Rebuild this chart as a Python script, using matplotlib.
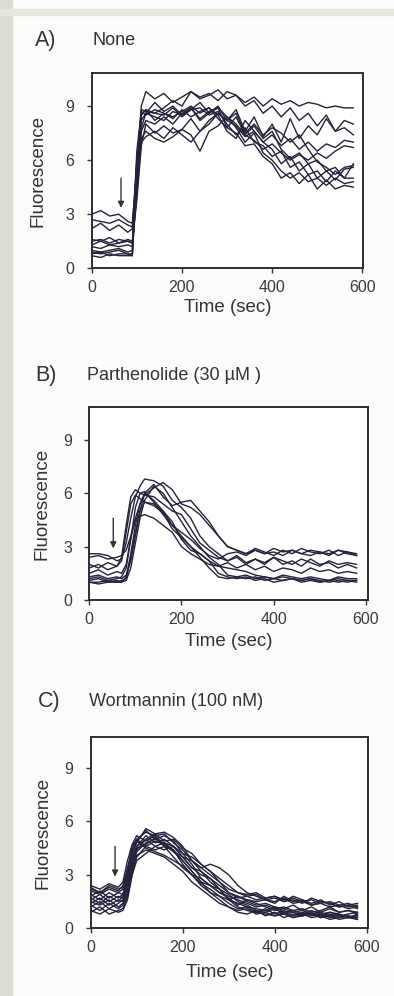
import matplotlib
matplotlib.use("Agg")
import matplotlib.pyplot as plt
from matplotlib.patches import Rectangle

plt.rcParams['font.family'] = ['Liberation Sans', 'DejaVu Sans']

# ---- panel A: None ----
time_a = [0, 20, 40, 60, 80, 90, 100, 110, 120] + list(range(140, 581, 20))
traces_a = [
    [3.0, 3.2, 2.9, 3.0, 2.6, 2.5, 5.5, 9.0, 9.8, 9.4, 9.7, 9.2, 9.5, 9.8, 9.5, 9.7, 9.3, 9.8, 9.6, 9.2, 9.5, 9.0, 9.4, 9.1, 9.3, 9.0, 9.2, 9.1, 8.9, 9.0, 8.9, 8.9],
    [2.7, 2.6, 2.5, 2.7, 2.4, 2.3, 6.0, 8.5, 8.8, 8.6, 8.9, 9.3, 9.0, 9.8, 9.4, 9.6, 9.9, 9.4, 9.6, 9.0, 9.3, 8.6, 9.0, 8.4, 8.9, 8.2, 8.6, 7.9, 8.5, 7.6, 8.2, 8.0],
    [2.2, 2.5, 2.1, 2.4, 2.0, 2.2, 5.0, 7.8, 8.6, 9.2, 8.7, 9.0, 8.5, 8.8, 9.2, 8.6, 9.0, 8.2, 8.8, 7.6, 8.4, 7.3, 8.0, 7.0, 8.3, 7.2, 7.9, 7.4, 8.3, 7.6, 7.8, 7.4],
    [1.6, 1.5, 1.7, 1.4, 1.6, 1.5, 4.5, 7.0, 7.3, 7.6, 7.2, 7.8, 7.4, 7.0, 7.6, 8.0, 8.6, 8.2, 7.9, 7.3, 7.6, 7.0, 7.4, 6.8, 7.2, 6.6, 7.0, 6.5, 6.9, 6.7, 7.1, 7.0],
    [1.3, 1.5, 1.3, 1.4, 1.5, 1.4, 4.0, 7.2, 7.6, 7.2, 7.0, 7.3, 7.7, 7.4, 6.5, 7.6, 7.9, 8.4, 8.0, 7.4, 7.1, 6.6, 6.9, 6.4, 6.0, 6.3, 6.0, 6.4, 6.1, 6.5, 6.8, 6.7],
    [1.2, 1.1, 1.3, 1.2, 1.3, 1.2, 5.8, 8.8, 8.7, 8.6, 8.5, 8.9, 8.4, 8.8, 8.9, 8.5, 8.7, 8.0, 7.4, 7.8, 7.0, 6.8, 6.2, 6.5, 5.6, 5.9, 5.2, 5.4, 4.8, 5.4, 5.0, 5.8],
    [1.0, 0.9, 1.0, 1.1, 0.9, 1.0, 6.5, 8.7, 8.5, 8.8, 8.6, 8.4, 8.7, 9.0, 8.6, 8.9, 8.5, 7.6, 7.2, 8.2, 7.6, 7.0, 6.6, 5.8, 6.2, 5.4, 5.8, 5.0, 5.4, 4.9, 5.5, 5.6],
    [0.8, 0.9, 0.7, 0.8, 0.8, 0.7, 5.2, 8.2, 8.6, 8.4, 8.2, 8.7, 8.5, 8.9, 8.2, 8.6, 8.9, 8.4, 7.8, 7.0, 7.5, 6.4, 6.0, 5.4, 5.0, 5.3, 4.8, 5.0, 4.6, 5.0, 4.7, 4.8],
    [0.7, 0.6, 0.8, 0.7, 0.7, 0.7, 4.8, 7.6, 8.2, 8.0, 8.4, 8.0, 8.6, 8.9, 8.3, 8.7, 8.9, 7.8, 7.5, 6.8, 6.9, 6.2, 5.8, 5.0, 5.3, 4.7, 5.2, 4.4, 4.9, 4.4, 4.6, 4.5],
    [0.9, 0.8, 0.9, 1.0, 0.8, 0.8, 6.0, 8.5, 8.8, 8.2, 8.6, 8.3, 8.8, 8.4, 8.7, 8.9, 8.3, 7.8, 8.4, 7.4, 7.9, 7.2, 7.6, 6.6, 6.1, 6.4, 5.8, 6.0, 5.4, 5.6, 5.0, 5.0],
    [1.5, 1.6, 1.4, 1.6, 1.5, 1.4, 3.8, 6.8, 8.0, 7.5, 7.9, 7.5, 7.7, 8.3, 7.6, 8.2, 8.6, 8.2, 8.6, 7.5, 8.0, 7.4, 7.8, 7.5, 7.0, 7.4, 6.6, 5.9, 5.6, 5.2, 5.6, 5.7],
]

# ---- panel B: Parthenolide ----
time_b = [0, 20, 40, 60, 70, 80, 90, 100, 110, 120] + list(range(140, 581, 20))
traces_b = [
    [2.4, 2.5, 2.3, 2.4, 2.5, 2.8, 3.6, 4.6, 5.4, 5.9, 6.3, 6.6, 6.2, 5.4, 5.2, 4.8, 4.2, 3.6, 3.0, 2.8, 2.6, 2.8, 2.6, 2.9, 2.7, 2.8, 2.6, 2.8, 2.7, 2.5, 2.8, 2.6, 2.5],
    [2.6, 2.6, 2.5, 2.2, 2.3, 3.2, 4.6, 5.8, 6.4, 6.8, 6.7, 6.4, 5.6, 5.2, 4.6, 3.6, 3.0, 2.6, 2.2, 2.4, 2.0, 2.3, 2.1, 2.4, 2.0, 2.2, 1.9, 2.3, 2.0, 2.1, 1.8, 2.0, 1.8],
    [2.0, 1.8, 2.1, 1.9, 2.4, 4.2, 5.8, 6.2, 6.0, 6.1, 5.5, 4.8, 4.2, 3.8, 3.4, 2.9, 2.5, 2.3, 2.6, 2.7, 2.5, 2.8, 2.6, 2.7, 2.5, 2.8, 2.6, 2.5, 2.7, 2.6, 2.8, 2.7, 2.5],
    [1.5, 1.7, 1.4, 1.6, 1.5, 2.0, 3.5, 4.5, 4.7, 4.8, 4.6, 4.2, 3.8, 3.0, 2.6, 2.3, 2.0, 1.9, 2.1, 1.8, 2.0, 1.7, 1.9, 1.6, 1.8, 1.7, 1.5, 1.8, 1.6, 1.7, 1.5, 1.6, 1.5],
    [1.3, 1.4, 1.2, 1.3, 1.2, 1.4, 2.2, 3.6, 5.0, 6.0, 6.5, 5.8, 5.3, 5.5, 5.6, 5.0, 4.4, 3.6, 3.0, 2.8, 2.6, 2.9, 2.7, 2.5, 2.8, 2.6, 2.9, 2.7, 2.6, 2.8, 2.5, 2.7, 2.6],
    [1.1, 1.2, 1.0, 1.1, 1.0, 1.3, 2.6, 4.2, 5.4, 6.0, 5.6, 5.0, 4.2, 3.6, 3.0, 2.4, 1.8, 1.3, 1.2, 1.3, 1.2, 1.3, 1.1, 1.2, 1.1, 1.2, 1.1, 1.2, 1.0, 1.1, 1.2, 1.1, 1.1],
    [1.0, 1.0, 1.1, 1.0, 1.0, 1.1, 1.8, 3.2, 4.6, 5.6, 6.4, 6.0, 5.2, 4.4, 3.6, 3.0, 2.4, 2.0, 1.4, 1.3, 1.4, 1.2, 1.3, 1.2, 1.4, 1.3, 1.2, 1.3, 1.2, 1.1, 1.3, 1.2, 1.2],
    [1.0, 0.9, 1.0, 1.0, 1.1, 1.2, 2.4, 3.8, 5.0, 5.5, 5.4, 5.0, 4.4, 3.4, 2.8, 2.6, 2.2, 1.9, 1.8, 1.7, 1.6, 1.4, 1.3, 1.2, 1.3, 1.2, 1.1, 1.2, 1.1, 1.0, 1.1, 1.0, 1.1],
    [1.2, 1.3, 1.1, 1.2, 1.3, 1.8, 3.4, 5.2, 6.0, 5.9, 5.8, 5.4, 5.0, 4.8, 4.0, 3.2, 2.8, 2.4, 2.2, 2.5, 2.1, 2.3, 2.0, 2.4, 2.2, 2.0, 2.3, 2.1, 1.9, 2.2, 2.0, 2.1, 2.0],
    [1.8, 2.0, 1.7, 1.9, 2.2, 3.8, 5.4, 5.9, 5.7, 5.5, 5.3, 4.9, 4.0, 3.5, 3.0, 2.6, 2.2, 1.5, 1.3, 1.2, 1.3, 1.1, 1.2, 1.0, 1.1, 1.2, 1.0, 1.1, 1.0, 1.1, 1.0, 1.1, 1.0],
]

# ---- panel C: Wortmannin ----
time_c = [0, 20, 40, 60, 70, 80, 90] + list(range(100, 581, 20))
traces_c = [
    [2.2, 2.0, 2.3, 2.1, 2.4, 3.4, 4.4, 5.0, 5.4, 5.2, 5.3, 4.8, 4.4, 3.8, 3.4, 3.0, 2.6, 2.2, 2.0, 1.9, 2.0, 1.7, 1.8, 1.6, 1.7, 1.5, 1.6, 1.4, 1.5, 1.3, 1.4, 1.2],
    [1.8, 2.1, 1.7, 2.0, 1.9, 3.0, 4.2, 4.8, 5.6, 5.3, 4.9, 5.0, 4.5, 4.2, 3.6, 3.2, 2.6, 2.0, 1.8, 1.5, 1.3, 1.4, 1.2, 1.1, 1.3, 1.0, 1.2, 0.9, 1.1, 0.9, 1.0, 0.8],
    [1.2, 1.5, 1.1, 1.4, 1.6, 2.4, 3.6, 4.4, 5.0, 5.3, 5.4, 5.1, 4.6, 3.8, 3.4, 3.6, 3.4, 3.0, 2.4, 2.0, 1.8, 1.6, 1.5, 1.7, 1.4, 1.5, 1.3, 1.4, 1.2, 1.3, 1.1, 1.2],
    [1.5, 1.3, 1.6, 1.2, 1.4, 1.9, 3.2, 4.1, 4.4, 4.2, 4.0, 3.6, 3.2, 2.6, 2.2, 1.8, 1.4, 1.2, 1.0, 1.1, 0.8, 0.9, 0.7, 0.8, 0.6, 0.8, 0.6, 0.7, 0.5, 0.6, 0.7, 0.6],
    [2.4, 2.2, 2.5, 2.3, 2.6, 3.8, 4.7, 5.2, 4.9, 5.2, 4.7, 4.3, 4.0, 3.4, 3.0, 2.8, 2.4, 2.0, 1.7, 1.8, 1.6, 1.7, 1.8, 1.5, 1.6, 1.4, 1.7, 1.5, 1.4, 1.2, 1.3, 1.1],
    [1.0, 0.8, 1.1, 0.9, 1.0, 1.6, 3.0, 4.0, 4.6, 4.9, 4.7, 4.3, 3.8, 3.2, 2.6, 2.0, 1.6, 1.2, 0.9, 0.8, 1.0, 0.7, 0.9, 0.6, 0.8, 0.7, 0.9, 0.6, 0.8, 0.6, 0.7, 0.5],
    [1.9, 1.6, 2.0, 1.7, 1.9, 2.8, 4.0, 4.6, 5.0, 4.6, 4.8, 4.4, 3.6, 3.0, 2.8, 2.4, 2.0, 1.8, 1.6, 1.4, 1.2, 1.3, 1.1, 1.2, 1.0, 1.1, 0.9, 1.0, 1.2, 0.9, 1.0, 0.9],
    [1.4, 1.7, 1.3, 1.6, 1.5, 2.2, 3.4, 4.3, 4.8, 5.0, 5.2, 4.9, 4.2, 3.6, 2.8, 2.4, 2.2, 1.9, 1.5, 1.3, 1.0, 0.9, 1.1, 0.8, 0.9, 0.7, 0.8, 0.9, 0.7, 0.8, 0.6, 0.7],
    [2.1, 1.9, 2.2, 2.0, 2.2, 3.2, 4.6, 5.0, 4.6, 4.4, 4.6, 4.0, 3.4, 3.0, 2.5, 2.2, 1.8, 1.6, 1.8, 1.6, 1.5, 1.6, 1.4, 1.8, 1.5, 1.6, 1.3, 1.5, 1.4, 1.2, 1.3, 1.4],
    [0.9, 1.2, 0.8, 1.0, 1.1, 1.8, 3.0, 3.8, 4.2, 4.6, 4.4, 4.6, 4.0, 3.4, 3.2, 2.6, 2.2, 1.6, 1.2, 1.0, 0.9, 0.8, 0.7, 0.9, 0.6, 0.7, 0.8, 0.6, 0.7, 0.5, 0.6, 0.7],
    [1.6, 1.9, 1.5, 1.8, 1.7, 2.6, 3.8, 4.6, 5.2, 4.8, 5.0, 4.6, 4.0, 3.8, 3.2, 2.8, 2.2, 1.6, 1.4, 1.2, 1.1, 1.0, 1.2, 0.9, 1.0, 0.8, 1.0, 0.8, 0.9, 0.7, 0.8, 0.9],
    [1.3, 1.0, 1.4, 1.1, 1.3, 2.0, 3.6, 4.5, 4.7, 5.1, 4.6, 4.4, 3.8, 3.2, 2.6, 2.4, 2.0, 1.7, 1.3, 1.6, 1.4, 1.2, 1.0, 1.1, 0.9, 1.0, 0.8, 0.7, 0.9, 0.8, 0.6, 0.8],
    [2.3, 2.0, 2.4, 2.2, 2.3, 3.2, 4.3, 4.9, 5.5, 5.0, 4.8, 4.6, 4.2, 4.0, 3.6, 3.2, 2.8, 2.4, 2.0, 1.8, 1.9, 1.6, 1.7, 1.5, 1.8, 1.6, 1.4, 1.6, 1.3, 1.5, 1.2, 1.3],
    [1.7, 1.4, 1.8, 1.5, 1.8, 2.8, 4.2, 4.9, 4.5, 4.3, 4.1, 3.8, 3.5, 3.0, 2.4, 2.0, 1.8, 1.4, 1.1, 1.2, 0.9, 1.1, 0.8, 1.0, 0.7, 0.9, 0.7, 0.8, 0.6, 0.7, 0.6, 0.5],
]

letters = ["A)", "B)", "C)"]
titles = ["None", "Parthenolide (30 \u00b5M )", "Wortmannin (100 nM)"]
arrow_x = [65, 52, 53]
arrow_top = [5.0, 4.6, 4.6]
arrow_tip = [3.35, 2.9, 2.9]
y_ticks = [0, 3, 6, 9]
x_ticks = [0, 200, 400, 600]

W, H = 394, 996
fig = plt.figure(figsize=(W / 100, H / 100), dpi=100)
fig.patch.set_facecolor('#fbfbf9')
# scanned page edges
fig.patches.append(Rectangle((0, 0), 12 / W, 1, transform=fig.transFigure,
                             color='#dcdcd3', zorder=0))
fig.patches.append(Rectangle((0, 1 - 15 / H), 1, 6 / H, transform=fig.transFigure,
                             color='#e6e6df', zorder=0))

# axes boxes in pixels: left, top, right, bottom
boxes = [(91.7, 72.7, 363.3, 268.3), (89.3, 407.3, 367.7, 600.0), (90.7, 736.7, 368.3, 928.3)]
xmax = [602, 604, 603.5]
ymax = [10.85, 10.83, 10.76]
ylab_x = [-0.197, -0.171, -0.171]
xlab_y = [-0.2, -0.215, -0.233]
title_y = [40, 375, 702]
title_x = [93, 87, 89]
letter_x = [35, 35, 38]

data = [(time_a, traces_a), (time_b, traces_b), (time_c, traces_c)]

for i, (t, traces) in enumerate(data):
    l, tp, r, b = boxes[i]
    ax = fig.add_axes([l / W, 1 - b / H, (r - l) / W, (b - tp) / H])
    ax.set_facecolor('white')
    for tr in traces:
        ax.plot(t, tr, color='#22223a', lw=1.0)
    ax.set_xlim(0, xmax[i])
    ax.set_ylim(0, ymax[i])
    ax.set_xticks(x_ticks)
    ax.set_yticks(y_ticks)
    ax.tick_params(direction='out', length=3.5, width=1, labelsize=11.5,
                   colors='#333333', labelcolor='#3a3a3a')
    ax.tick_params(axis='y', pad=9)
    ax.tick_params(axis='x', pad=5)
    for sp in ax.spines.values():
        sp.set_linewidth(1.4)
        sp.set_color('#2d2d35')
    ax.set_ylabel("Fluorescence", fontsize=13.5, color='#333333')
    ax.yaxis.set_label_coords(ylab_x[i], 0.5)
    ax.yaxis.label.set_va('center')
    ax.set_xlabel("Time (sec)", fontsize=13.5, color='#333333')
    ax.xaxis.set_label_coords(0.5, xlab_y[i])
    ax.xaxis.label.set_va('center')
    ax.annotate('', xy=(arrow_x[i], arrow_tip[i]), xytext=(arrow_x[i], arrow_top[i]),
                arrowprops=dict(arrowstyle='-|>', color='#333333', lw=1,
                                mutation_scale=9, shrinkA=0, shrinkB=0))
    fig.text(letter_x[i] / W, 1 - title_y[i] / H, letters[i], fontsize=15.5,
             color='#333333', va='center', ha='left')
    fig.text(title_x[i] / W, 1 - title_y[i] / H, titles[i], fontsize=13,
             color='#333333', va='center', ha='left')

fig.savefig('out.png', dpi=100, facecolor=fig.get_facecolor())
